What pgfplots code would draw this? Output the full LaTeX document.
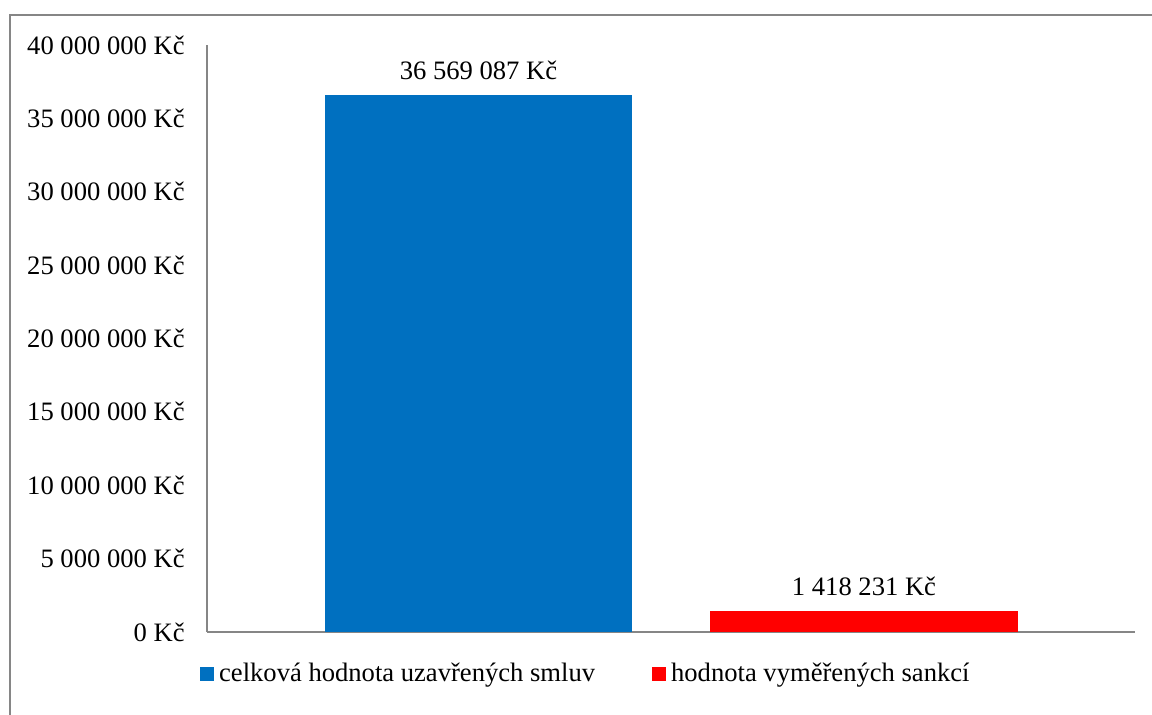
\documentclass[border=0pt]{standalone}
\usepackage{pgfplots}
\pgfplotsset{compat=1.18}
\usepackage{fontspec}
\setmainfont{Liberation Serif}
\definecolor{barblue}{RGB}{0,112,192}
\definecolor{barred}{RGB}{255,0,0}
\definecolor{axgray}{RGB}{134,134,134}
\begin{document}
\fontsize{13.3}{16}\selectfont
\begin{tikzpicture}
\useasboundingbox (0,0) rectangle (576pt,357.5pt);
\draw[axgray, line width=0.75pt] (5pt,-10pt) -- (5pt,350pt) -- (590pt,350pt);
\begin{axis}[
  at={(103.5pt,41.5pt)}, anchor=south west,
  scale only axis, width=464pt, height=293.5pt,
  xmin=-0.7043, xmax=1.703,
  ymin=0, ymax=40000000,
  axis lines*=left,
  axis line style={axgray, line width=0.6pt, -},
  xtick=\empty,
  ytick={0,5000000,10000000,15000000,20000000,25000000,30000000,35000000,40000000},
  yticklabels={0 Kč,5 000 000 Kč,10 000 000 Kč,15 000 000 Kč,20 000 000 Kč,25 000 000 Kč,30 000 000 Kč,35 000 000 Kč,40 000 000 Kč},
  scaled y ticks=false,
  major tick length=0pt,
  yticklabel style={inner xsep=0pt, xshift=-11pt, font=\fontsize{13.3}{16}\selectfont},
  ybar, bar width=153.5pt, bar shift=0pt,
  nodes near coords style={anchor=center, yshift=12.5pt, font=\fontsize{13.3}{16}\selectfont, text=black},
  legend columns=2,
  legend style={draw=none, fill=none, at={(-0.0078,-0.0716)}, anchor=west, inner sep=0pt,
    font=\fontsize{13.3}{16}\selectfont,
    nodes={inner xsep=2.5pt, inner ysep=1pt},
    /tikz/every even column/.append style={column sep=26pt}},
  legend cell align=left,
  clip=false,
]
\addplot[fill=barblue, draw=none, nodes near coords={36 569 087 Kč},
  legend image code/.code={\fill[barblue] (0pt,-3.5pt) rectangle (7pt,3.5pt);}]
  coordinates {(0,36569087)};
\addlegendentry{celková hodnota uzavřených smluv}
\addplot[fill=barred, draw=none, nodes near coords={1 418 231 Kč},
  legend image code/.code={\fill[barred] (0pt,-3.5pt) rectangle (7pt,3.5pt);}]
  coordinates {(1,1418231)};
\addlegendentry{hodnota vyměřených sankcí}
\end{axis}
\end{tikzpicture}
\end{document}
